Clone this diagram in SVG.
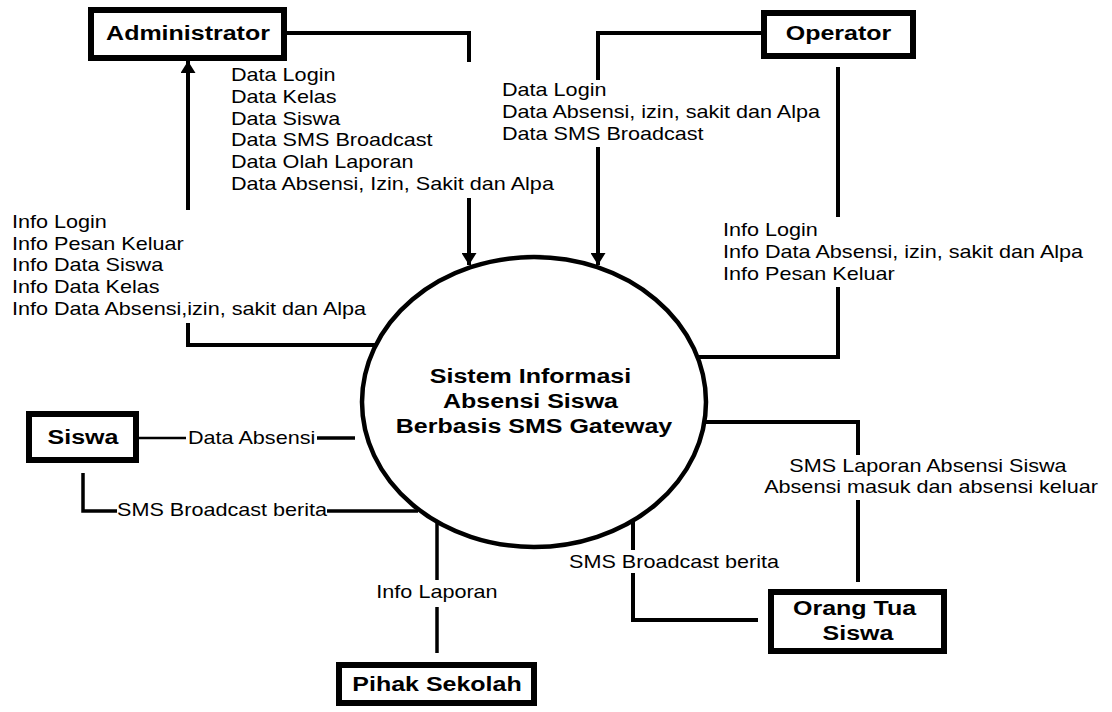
<svg xmlns="http://www.w3.org/2000/svg" width="1112" height="712" viewBox="0 0 1112 712">
<style>
  .box { fill: #ffffff; stroke: #000000; stroke-width: 6; }
  .proc { fill: #ffffff; stroke: #000000; stroke-width: 4.5; }
  .title { font-family: "Liberation Sans", Arial, sans-serif; font-weight: bold; font-size: 20px; fill: #000000; text-anchor: middle; }
  .lbl { font-family: "Liberation Sans", Arial, sans-serif; font-size: 18px; fill: #000000; }
  .mid { text-anchor: middle; }
  .ln { fill: none; stroke: #000000; stroke-width: 4; }
  .thin { fill: none; stroke: #000000; stroke-width: 2.5; }
</style>
<defs>
  <marker id="arrow" viewBox="0 0 12 15" refX="12" refY="7.5" markerWidth="12" markerHeight="15" orient="auto" markerUnits="userSpaceOnUse">
    <path d="M0,0 L12,7.5 L0,15 Z" fill="#000000"/>
  </marker>
</defs>
<rect x="0" y="0" width="1112" height="712" fill="#ffffff"/>

<g id="connectors">
  <path class="ln" d="M287,33 H469 V62"/>
  <path class="ln" d="M469,198 V265" marker-end="url(#arrow)"/>
  <path class="ln" d="M376,345 H188 V323"/>
  <path class="ln" d="M188,210 V61" marker-end="url(#arrow)"/>
  <path class="ln" d="M761,33 H598 V80"/>
  <path class="ln" d="M598,147 V265" marker-end="url(#arrow)"/>
  <path class="ln" d="M838,67 V217"/>
  <path class="ln" d="M838,287 V357 H697"/>
  <path class="thin" d="M139,438 H186"/>
  <path class="ln" d="M317,438 H355" style="stroke-width:3.5"/>
  <path class="ln" d="M83,473 V511 H117" style="stroke-width:3.5"/>
  <path class="ln" d="M327,511 H418" style="stroke-width:3.5"/>
  <path class="ln" d="M437,522 V580" style="stroke-width:3.5"/>
  <path class="ln" d="M437,607 V653" style="stroke-width:3.5"/>
  <path class="ln" d="M633,521 V550"/>
  <path class="ln" d="M633,573 V620 H758"/>
  <path class="ln" d="M704,422 H858 V455"/>
  <path class="ln" d="M858,500 V582"/>
</g>

<g id="labels">
  <text class="lbl" transform="translate(231,81) scale(1.2,1)">
    <tspan x="0" y="0">Data Login</tspan>
    <tspan x="0" y="21.8">Data Kelas</tspan>
    <tspan x="0" y="43.6">Data Siswa</tspan>
    <tspan x="0" y="65.4">Data SMS Broadcast</tspan>
    <tspan x="0" y="87.2">Data Olah Laporan</tspan>
    <tspan x="0" y="109">Data Absensi, Izin, Sakit dan Alpa</tspan>
  </text>
  <text class="lbl" transform="translate(12,228) scale(1.2,1)">
    <tspan x="0" y="0">Info Login</tspan>
    <tspan x="0" y="21.75">Info Pesan Keluar</tspan>
    <tspan x="0" y="43.5">Info Data Siswa</tspan>
    <tspan x="0" y="65.25">Info Data Kelas</tspan>
    <tspan x="0" y="87">Info Data Absensi,izin, sakit dan Alpa</tspan>
  </text>
  <text class="lbl" transform="translate(502,96) scale(1.2,1)">
    <tspan x="0" y="0">Data Login</tspan>
    <tspan x="0" y="22">Data Absensi, izin, sakit dan Alpa</tspan>
    <tspan x="0" y="44">Data SMS Broadcast</tspan>
  </text>
  <text class="lbl" transform="translate(723,236) scale(1.2,1)">
    <tspan x="0" y="0">Info Login</tspan>
    <tspan x="0" y="22">Info Data Absensi, izin, sakit dan Alpa</tspan>
    <tspan x="0" y="44">Info Pesan Keluar</tspan>
  </text>
  <text class="lbl" transform="translate(188,444) scale(1.2,1)">Data Absensi</text>
  <text class="lbl" transform="translate(117,516) scale(1.2,1)">SMS Broadcast berita</text>
  <text class="lbl mid" transform="translate(437,598) scale(1.2,1)">Info Laporan</text>
  <text class="lbl" transform="translate(569,568) scale(1.2,1)">SMS Broadcast berita</text>
  <text class="lbl mid" transform="translate(931,472) scale(1.2,1)">
    <tspan x="0" y="0">SMS Laporan Absensi Siswa</tspan>
    <tspan x="0" y="21.5">Absensi masuk dan absensi keluar</tspan>
  </text>
</g>

<g id="process">
  <ellipse class="proc" cx="534" cy="402" rx="172" ry="145"/>
  <text class="title" transform="translate(534,383) scale(1.25,1)">
    <tspan x="0" y="0">Sistem Informasi</tspan>
    <tspan x="0" y="25">Absensi Siswa</tspan>
    <tspan x="0" y="50">Berbasis SMS Gateway</tspan>
  </text>
</g>

<g id="administrator">
  <rect class="box" x="91" y="10" width="193" height="48"/>
  <text class="title" transform="translate(188,40) scale(1.25,1)">Administrator</text>
</g>

<g id="operator">
  <rect class="box" x="764" y="13" width="149" height="43"/>
  <text class="title" transform="translate(838.5,40) scale(1.25,1)">Operator</text>
</g>

<g id="siswa">
  <rect class="box" x="29" y="414" width="107" height="46"/>
  <text class="title" transform="translate(83,444) scale(1.25,1)">Siswa</text>
</g>

<g id="pihak-sekolah">
  <rect class="box" x="339" y="665" width="195" height="38"/>
  <text class="title" transform="translate(437,691) scale(1.25,1)">Pihak Sekolah</text>
</g>

<g id="orang-tua-siswa">
  <rect class="box" x="771" y="592" width="173" height="59"/>
  <text class="title" transform="translate(858,615) scale(1.25,1)">
    <tspan x="0" y="0">Orang Tua</tspan>
    <tspan x="0" y="25">Siswa</tspan>
  </text>
</g>
</svg>
